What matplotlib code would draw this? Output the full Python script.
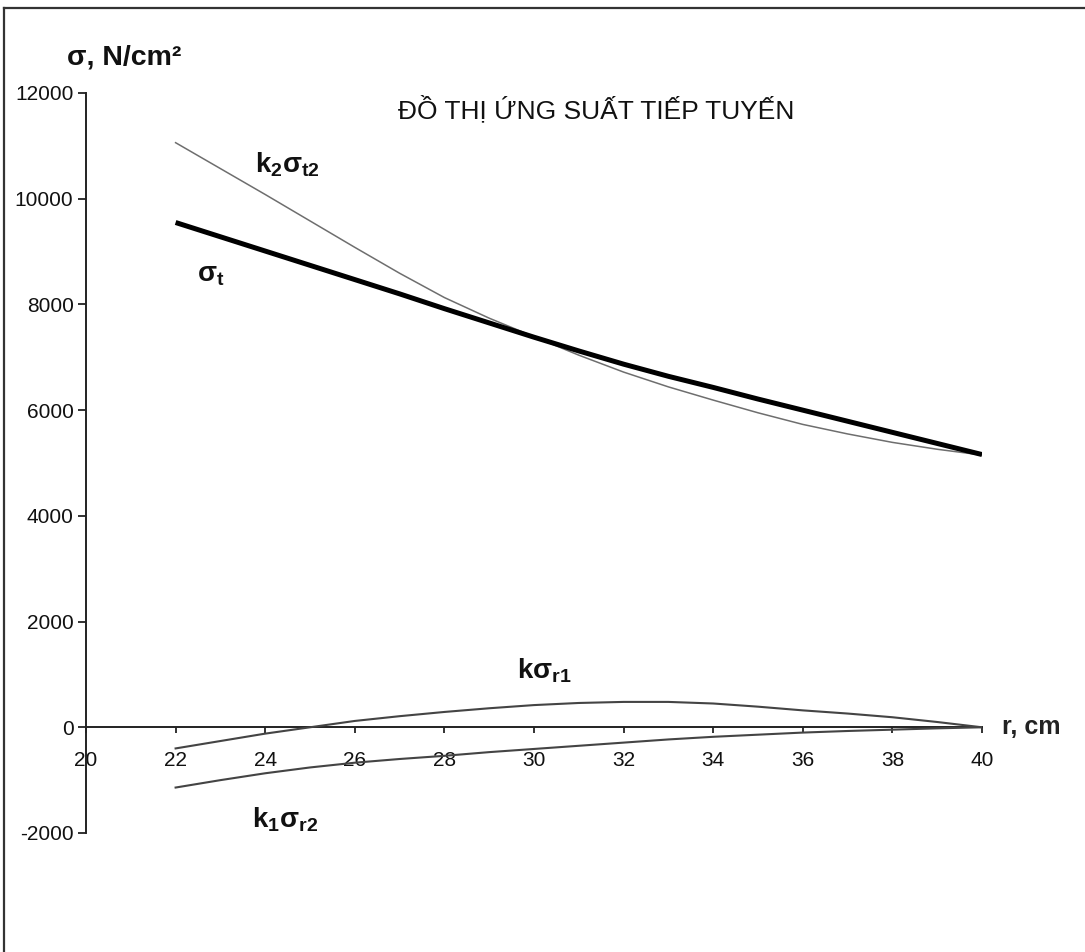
import matplotlib
matplotlib.use("Agg")
import matplotlib.pyplot as plt
from matplotlib.lines import Line2D

plt.rcParams['font.family'] = ['Liberation Sans', 'DejaVu Sans']
plt.rcParams['mathtext.fontset'] = 'custom'
plt.rcParams['mathtext.rm'] = 'Liberation Sans'
plt.rcParams['mathtext.it'] = 'Liberation Sans'
plt.rcParams['mathtext.bf'] = 'Liberation Sans:bold'

# ---- data ----
r = [22, 23, 24, 25, 26, 27, 28, 29, 30, 31, 32, 33, 34, 35, 36, 37, 38, 39, 40]
sigma_t = [9550, 9280, 9010, 8740, 8470, 8200, 7920, 7650, 7380, 7120,
           6870, 6640, 6430, 6210, 6000, 5790, 5580, 5370, 5160]
k2_sigma_t2 = [11060, 10570, 10080, 9580, 9080, 8590, 8130, 7740, 7390, 7040,
               6720, 6440, 6190, 5950, 5730, 5550, 5390, 5260, 5150]
k_sigma_r1 = [-400, -260, -120, 0, 120, 210, 290, 360, 420, 460,
              480, 480, 450, 390, 320, 260, 190, 100, 0]
k1_sigma_r2 = [-1140, -1000, -870, -760, -670, -600, -540, -470, -410, -350,
               -290, -230, -180, -140, -100, -70, -45, -20, 0]

x_ticks = [20, 22, 24, 26, 28, 30, 32, 34, 36, 38, 40]
y_ticks = [-2000, 0, 2000, 4000, 6000, 8000, 10000, 12000]
title = "ĐỒ THỊ ỨNG SUẤT TIẾP TUYẾN"

W, H = 1085, 952
fig = plt.figure(figsize=(W / 100, H / 100), dpi=100)
ax = fig.add_axes([86 / W, 1 - 833 / H, (982 - 86) / W, (833 - 93) / H])

ax.plot(r, k2_sigma_t2, color='#6e6e6e', lw=1.1, zorder=3)
ax.plot(r, sigma_t, color='black', lw=3.6, zorder=4, solid_capstyle='butt')
ax.plot(r, k_sigma_r1, color='#444444', lw=1.5, zorder=3)
ax.plot(r, k1_sigma_r2, color='#444444', lw=1.5, zorder=3)

ax.set_xlim(20, 40)
ax.set_ylim(-2000, 12000)
ax.spines['top'].set_visible(False)
ax.spines['right'].set_visible(False)
ax.spines['bottom'].set_position(('data', 0))
for s in ('left', 'bottom'):
    ax.spines[s].set_linewidth(1.4)
    ax.spines[s].set_color('#222222')
ax.set_xticks(x_ticks)
ax.set_yticks(y_ticks)
ax.set_xticklabels([str(v) for v in x_ticks])
ax.set_yticklabels([str(v) for v in y_ticks])
ax.tick_params(axis='x', direction='out', length=4, width=1.3, pad=13,
               labelsize=15, colors='#222222', labelcolor='#111111')
ax.tick_params(axis='y', direction='out', length=6, width=1.3, pad=3,
               labelsize=15, colors='#222222', labelcolor='#111111')
ax.patch.set_visible(False)

ax.text(31.38, 11686, title, ha='center', va='center', fontsize=19, color='#111111')
ax.text(19.58, 12670, "σ, N/cm²", ha='left', va='center', fontsize=20.5,
        fontweight='bold', color='#111111', clip_on=False)
ax.text(40.45, 0, "r, cm", ha='left', va='center', fontsize=18,
        fontweight='bold', color='#222222', clip_on=False)

lab_kw = dict(ha='left', va='baseline', fontsize=20, color='#111111')
ax.text(23.77, 10492, r"$\mathbf{k_2σ_{t2}}$", **lab_kw)
ax.text(22.48, 8428, r"$\mathbf{σ_t}$", **lab_kw)
ax.text(29.62, 928, r"$\mathbf{kσ_{r1}}$", **lab_kw)
ax.text(23.7, -1894, r"$\mathbf{k_1σ_{r2}}$", **lab_kw)

# figure frame (left and top edges)
fig.add_artist(Line2D([4 / W, 4 / W], [0, 1 - 8 / H], transform=fig.transFigure,
                      color='#333333', lw=1.6))
fig.add_artist(Line2D([4 / W, 1], [1 - 8 / H, 1 - 8 / H], transform=fig.transFigure,
                      color='#333333', lw=1.6))

fig.savefig("out.png", dpi=100, facecolor='white')
